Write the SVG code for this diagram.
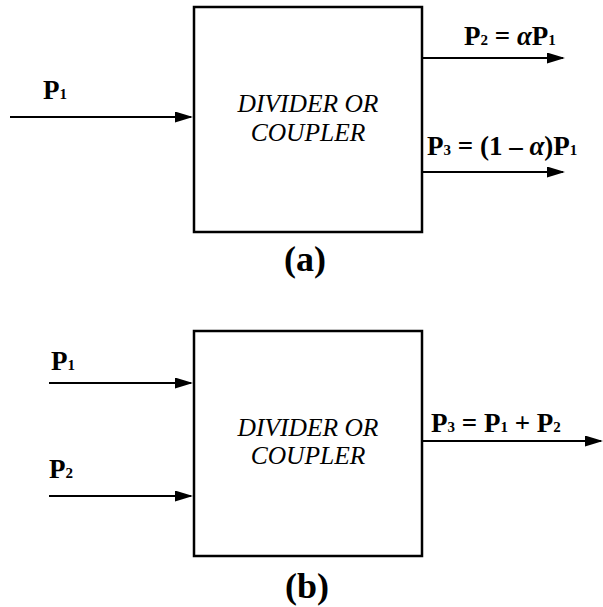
<svg xmlns="http://www.w3.org/2000/svg" width="603" height="607" viewBox="0 0 603 607">
<defs>
<style>
.box{fill:none;stroke:#000;stroke-width:2.5}
.ln{stroke:#000;stroke-width:2.2;fill:none}
.lbl{font-family:'Liberation Serif','Times New Roman',serif;font-weight:bold;font-size:27px;fill:#000}
.s{font-size:15px}
.it{font-style:italic}
.inner{font-family:'Liberation Serif','Times New Roman',serif;font-style:italic;font-size:25.5px;fill:#000;text-anchor:middle}
.cap{font-family:'Liberation Serif','Times New Roman',serif;font-weight:bold;font-size:36px;fill:#000;text-anchor:middle}
</style>
<marker id="ah" markerUnits="userSpaceOnUse" markerWidth="18" markerHeight="12" refX="16" refY="5.5" orient="auto">
<path d="M0,0 L18,5.5 L0,11 z" fill="#000"/>
</marker>
</defs>
<rect width="603" height="607" fill="#fff"/>

<g id="nodeA">
<rect class="box" x="194" y="7" width="228" height="225"/>
<text class="inner" x="308" y="112">DIVIDER OR</text>
<text class="inner" x="308" y="141">COUPLER</text>
</g>
<text class="cap" x="305" y="271">(a)</text>

<g id="nodeB">
<rect class="box" x="194" y="331" width="228" height="225"/>
<text class="inner" x="308" y="436">DIVIDER OR</text>
<text class="inner" x="308" y="464">COUPLER</text>
</g>
<text class="cap" x="307" y="598">(b)</text>

<g id="connectors">
<line class="ln" x1="10" y1="117" x2="191" y2="117" marker-end="url(#ah)"/>
<line class="ln" x1="422" y1="58" x2="563" y2="58" marker-end="url(#ah)"/>
<line class="ln" x1="422" y1="172" x2="563" y2="172" marker-end="url(#ah)"/>
<line class="ln" x1="49" y1="383" x2="191" y2="383" marker-end="url(#ah)"/>
<line class="ln" x1="49" y1="496" x2="191" y2="496" marker-end="url(#ah)"/>
<line class="ln" x1="422" y1="441" x2="601" y2="441" marker-end="url(#ah)"/>
</g>

<g id="labels">
<text class="lbl" x="43" y="99">P<tspan class="s">1</tspan></text>
<text class="lbl" x="464" y="45">P<tspan class="s">2</tspan> = <tspan class="it">α</tspan>P<tspan class="s">1</tspan></text>
<text class="lbl" x="427" y="155">P<tspan class="s">3</tspan> = (1 – <tspan class="it">α</tspan>)P<tspan class="s">1</tspan></text>
<text class="lbl" x="51" y="370">P<tspan class="s">1</tspan></text>
<text class="lbl" x="49" y="478">P<tspan class="s">2</tspan></text>
<text class="lbl" x="431" y="432">P<tspan class="s">3</tspan> = P<tspan class="s">1</tspan> + P<tspan class="s">2</tspan></text>
</g>
</svg>
